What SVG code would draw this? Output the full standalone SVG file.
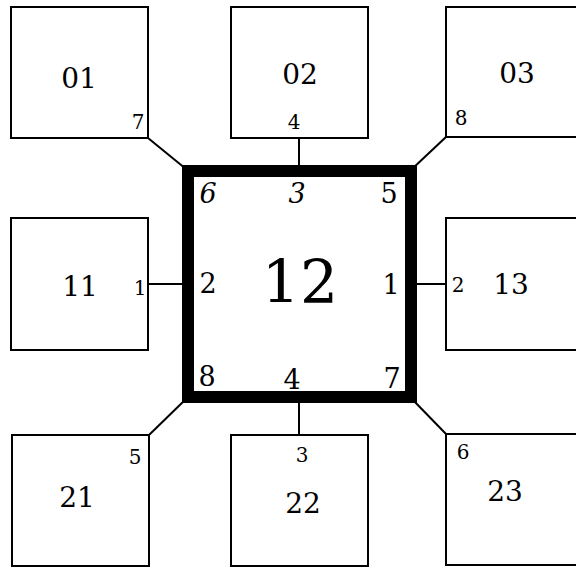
<svg xmlns="http://www.w3.org/2000/svg" width="576" height="570" viewBox="0 0 576 570">
<style>
.box{fill:#fff;stroke:#000;stroke-width:2}
.hub{fill:#fff;stroke:#000;stroke-width:12}
.c{stroke:#000;stroke-width:2;fill:none}
text{font-family:"DejaVu Serif","Liberation Serif",serif;fill:#000;text-anchor:middle}
.n{font-size:28px}
.p{font-size:20px}
.h{font-size:27px}
.it{font-style:italic}
.big{font-size:60px}
</style>
<rect width="576" height="570" fill="#fff"/>
<g id="connectors">
<line class="c" x1="148" y1="138" x2="186" y2="169"/>
<line class="c" x1="299" y1="138" x2="299" y2="168"/>
<line class="c" x1="446" y1="137" x2="412" y2="169"/>
<line class="c" x1="148" y1="284" x2="186" y2="284"/>
<line class="c" x1="412" y1="284" x2="446" y2="284"/>
<line class="c" x1="149" y1="435" x2="186" y2="399"/>
<line class="c" x1="299" y1="399" x2="299" y2="435"/>
<line class="c" x1="446" y1="434" x2="412" y2="399"/>
</g>
<g id="n01"><rect class="box" x="11" y="7" width="137" height="131"/><text class="n" x="79" y="88">01</text><text class="p" x="138" y="129">7</text></g>
<g id="n02"><rect class="box" x="231" y="7" width="137" height="131"/><text class="n" x="300" y="84">02</text><text class="p" x="294" y="129">4</text></g>
<g id="n03"><rect class="box" x="446" y="7" width="140" height="130"/><text class="n" x="517" y="83">03</text><text class="p" x="461" y="125">8</text></g>
<g id="n11"><rect class="box" x="11" y="218" width="137" height="132"/><text class="n" x="80" y="296">11</text><text class="p" x="140" y="295">1</text></g>
<g id="n13"><rect class="box" x="446" y="218" width="140" height="132"/><text class="n" x="511" y="294">13</text><text class="p" x="458" y="292">2</text></g>
<g id="n21"><rect class="box" x="12" y="435" width="137" height="131"/><text class="n" x="77" y="507">21</text><text class="p" x="135" y="464">5</text></g>
<g id="n22"><rect class="box" x="231" y="435" width="137" height="131"/><text class="n" x="303" y="513">22</text><text class="p" x="302" y="462">3</text></g>
<g id="n23"><rect class="box" x="446" y="434" width="140" height="131"/><text class="n" x="505" y="501">23</text><text class="p" x="463" y="459">6</text></g>
<g id="n12">
<rect class="hub" x="188" y="171" width="223" height="226"/>
<text class="big" x="300" y="303">12</text>
<text class="h it" x="208" y="203">6</text>
<text class="h it" x="297" y="203">3</text>
<text class="h" x="389" y="203">5</text>
<text class="h" x="208" y="293">2</text>
<text class="h" x="391" y="294">1</text>
<text class="h" x="207" y="386">8</text>
<text class="h" x="292" y="389">4</text>
<text class="h" x="392" y="388">7</text>
</g>
</svg>
